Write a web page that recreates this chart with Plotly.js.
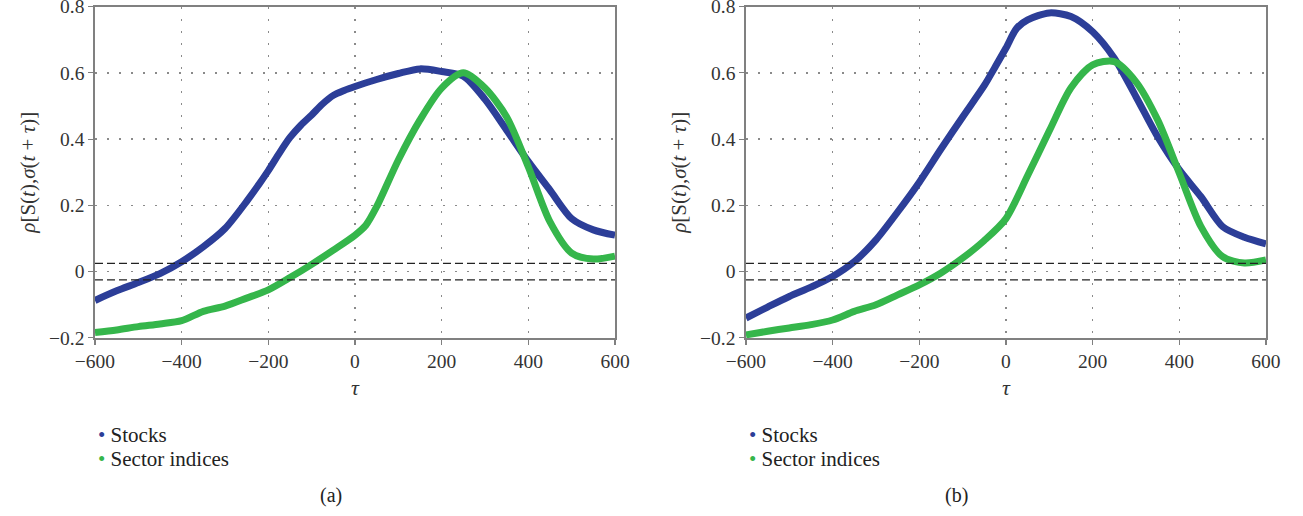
<!DOCTYPE html>
<html>
<head>
<meta charset="utf-8">
<script src="https://cdn.plot.ly/plotly-3.0.1.min.js"></script>
<style>html,body{margin:0;padding:0;background:#fff;}#chart{width:1303px;height:516px;}</style>
</head>
<body>
<div id="chart"></div>
<script>
// panel (a): lag tau and correlations
const tauStocksA = [-600,-550,-500,-450,-400,-350,-300,-250,-200,-175,-150,-125,-100,-75,-50,-25,0,50,100,150,200,250,300,350,400,450,500,550,600];
const stocksA    = [-0.087,-0.058,-0.033,-0.006,0.030,0.075,0.130,0.212,0.305,0.357,0.405,0.442,0.473,0.506,0.532,0.547,0.559,0.580,0.598,0.612,0.604,0.590,0.520,0.427,0.332,0.246,0.160,0.126,0.110];
const tauSectorA = [-600,-550,-500,-450,-400,-350,-300,-250,-200,-150,-100,-50,0,25,50,100,150,200,250,300,350,400,450,500,550,600];
const sectorA    = [-0.184,-0.176,-0.166,-0.158,-0.148,-0.120,-0.104,-0.080,-0.055,-0.018,0.022,0.065,0.110,0.140,0.196,0.337,0.458,0.554,0.600,0.554,0.467,0.316,0.150,0.056,0.038,0.047];
// panel (b)
const tauStocksB = [-600,-550,-500,-450,-400,-350,-300,-250,-200,-150,-100,-50,-25,0,25,50,100,150,200,250,300,350,400,450,500,550,600];
const stocksB    = [-0.140,-0.107,-0.075,-0.047,-0.015,0.030,0.096,0.180,0.270,0.370,0.467,0.562,0.618,0.675,0.735,0.760,0.781,0.770,0.724,0.644,0.528,0.407,0.307,0.226,0.136,0.104,0.084];
const tauSectorB = [-600,-550,-500,-450,-400,-350,-300,-250,-200,-150,-100,-50,0,50,100,150,200,250,300,350,400,450,500,550,600];
const sectorB    = [-0.191,-0.180,-0.170,-0.160,-0.146,-0.120,-0.100,-0.070,-0.040,-0.004,0.041,0.094,0.160,0.290,0.425,0.555,0.624,0.634,0.573,0.458,0.297,0.136,0.045,0.026,0.035];
const seriesNames = ["Stocks","Sector indices"];
const panelLabels = ["(a)","(b)"];
const significance = [0.025,-0.025];
const xTicks = [-600,-400,-200,0,200,400,600];
const yTicks = [-0.2,0,0.2,0.4,0.6,0.8];

const blue = "#2c3e98", green = "#35b64b";
const serif = "Liberation Serif";
const colors = [blue, green];

const traces = [];
function addPanel(xa, ya, ts, s, tg, g){
  traces.push({x:ts, y:s, xaxis:xa, yaxis:ya, mode:"lines", name:seriesNames[0], line:{color:blue,width:7,shape:"spline",smoothing:0.8}, showlegend:false, hoverinfo:"skip"});
  traces.push({x:tg, y:g, xaxis:xa, yaxis:ya, mode:"lines", name:seriesNames[1], line:{color:green,width:7,shape:"spline",smoothing:0.8}, showlegend:false, hoverinfo:"skip"});
}
addPanel("x","y",tauStocksA,stocksA,tauSectorA,sectorA);
addPanel("x2","y2",tauStocksB,stocksB,tauSectorB,sectorB);

const yTitle = "<i>ρ</i>[S(<i>t</i>),<i>σ</i>(<i>t</i> + <i>τ</i>)]";
const common = {ticks:"outside", ticklen:5, tickcolor:"#808080", tickwidth:1.2,
  showline:true, linecolor:"#808080", linewidth:1.6, mirror:true, zeroline:false,
  showgrid:true, gridcolor:"#8a8a8a", griddash:"2px,10px", gridwidth:1.3, ticklabeloverflow:"allow",
  tickfont:{family:serif,size:19.5,color:"#333"}};
function xax(dom){
  return Object.assign({domain:dom, range:[-600,600], tickvals:xTicks,
    title:{text:"<i>τ</i>", font:{family:serif,size:22,color:"#333"}, standoff:8}}, common);
}
function yax(xanchor){
  return Object.assign({domain:[0.345,0.9874], range:[-0.2003,0.8003], tickvals:yTicks, anchor:xanchor,
    title:{text:yTitle, font:{family:serif,size:21,color:"#333"}, standoff:8}}, common);
}
const shapes = [];
[["x","y"],["x2","y2"]].forEach(([xa,ya])=>{
  significance.forEach(v=>{
    shapes.push({type:"line", xref:xa+" domain", yref:ya, x0:0, x1:1, y0:v, y1:v, line:{color:"#222",width:1.3,dash:"8px,4px"}});
  });
});
// legend entries (bullet + name) and panel labels
const annotations = [];
[96, 747].forEach((lx, p)=>{
  seriesNames.forEach((nm, i)=>{
    annotations.push({text:`<span style="color:${colors[i]}">•</span> ${nm}`, xref:"paper", yref:"paper",
      x:lx/1303, y:1-(435+24*i)/516, xanchor:"left", yanchor:"middle", showarrow:false, align:"left",
      font:{family:serif,size:21,color:"#222"}});
  });
});
[318, 970].forEach((cx, p)=>{
  annotations.push({text:panelLabels[p], xref:"paper", yref:"paper", x:cx/1303, y:1-495/516, yanchor:"middle",
    showarrow:false, font:{family:serif,size:20,color:"#222"}});
});
const layout = {
  width:1303, height:516, margin:{l:0,r:0,t:0,b:0}, paper_bgcolor:"#fff", plot_bgcolor:"#fff",
  font:{family:serif},
  xaxis:xax([0.0729,0.472]), yaxis:yax("x"),
  xaxis2:xax([0.5725,0.9716]), yaxis2:yax("x2"),
  shapes:shapes, annotations:annotations, showlegend:false
};
Plotly.newPlot("chart", traces, layout, {staticPlot:true});
</script>
</body>
</html>
